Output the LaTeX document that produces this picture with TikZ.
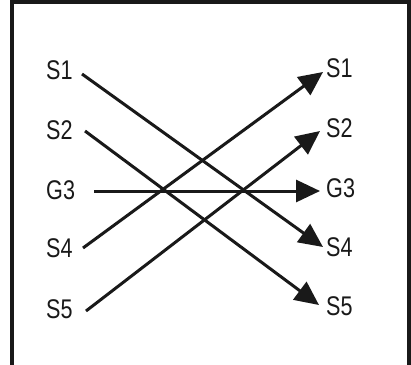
\documentclass[tikz,border=0pt]{standalone}
\usepackage{fontspec}
\newfontfamily\condfont[FakeStretch=0.8]{Liberation Sans}
\usetikzlibrary{arrows.meta}
\begin{document}
\begin{tikzpicture}[x=1pt,y=-1pt,
  lbl/.style={anchor=base west,inner sep=0pt,font=\condfont\fontsize{27}{30}\selectfont,text=black!90},
  conn/.style={line width=3pt,draw=black!90,-{Triangle[length=24pt,width=22pt]}},
  frameline/.style={line width=4pt,draw=black!90}]
\useasboundingbox (0,0) rectangle (411,364);
\fill[white] (0,0) rectangle (411,364);
\draw[frameline] (12,368) -- (12,2) -- (409,2) -- (409,368);
% left labels
\node[lbl] (ls1) at (46,79) {S1};
\node[lbl] (ls2) at (46,139) {S2};
\node[lbl] (lg3) at (46,199) {G3};
\node[lbl] (ls4) at (46,257) {S4};
\node[lbl] (ls5) at (46,318) {S5};
% right labels
\node[lbl] (rs1) at (326,77) {S1};
\node[lbl] (rs2) at (326,137) {S2};
\node[lbl] (rg3) at (326,197) {G3};
\node[lbl] (rs4) at (326,256) {S4};
\node[lbl] (rs5) at (326,315) {S5};
% connector ends
\coordinate (a1) at (82,74);
\coordinate (a2) at (85,131);
\coordinate (a3) at (94,191);
\coordinate (a4) at (83,248);
\coordinate (a5) at (86,311);
\coordinate (b1) at (323,72);
\coordinate (b2) at (320,131);
\coordinate (b3) at (320,191);
\coordinate (b4) at (323,247);
\coordinate (b5) at (319,305);
\draw[conn] (a1) -- (b4);
\draw[conn] (a2) -- (b5);
\draw[conn] (a3) -- (b3);
\draw[conn] (a4) -- (b1);
\draw[conn] (a5) -- (b2);
\end{tikzpicture}
\end{document}
